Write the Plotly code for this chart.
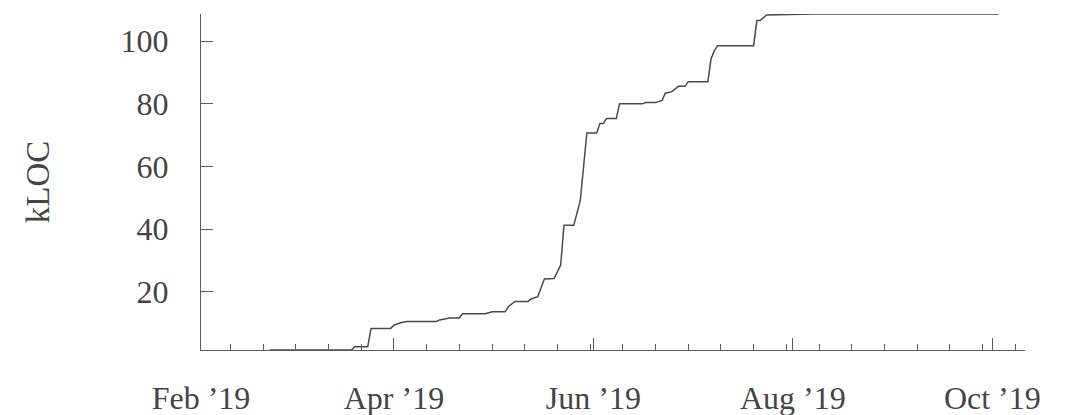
import plotly.graph_objects as go

dates = [
    "2019-02-22", "2019-03-12", "2019-03-19", "2019-03-20", "2019-03-23",
    "2019-03-24", "2019-03-25", "2019-03-31", "2019-04-01", "2019-04-03",
    "2019-04-05", "2019-04-14", "2019-04-15", "2019-04-18", "2019-04-21",
    "2019-04-22", "2019-04-29", "2019-05-01", "2019-05-05", "2019-05-06",
    "2019-05-08", "2019-05-12", "2019-05-13", "2019-05-15", "2019-05-17",
    "2019-05-20", "2019-05-22", "2019-05-23", "2019-05-26", "2019-05-28",
    "2019-05-30", "2019-06-02", "2019-06-03", "2019-06-04", "2019-06-05",
    "2019-06-08", "2019-06-09", "2019-06-16", "2019-06-17", "2019-06-20",
    "2019-06-22", "2019-06-23", "2019-06-25", "2019-06-27", "2019-06-29",
    "2019-06-30", "2019-07-06", "2019-07-07", "2019-07-08", "2019-07-09",
    "2019-07-20", "2019-07-21", "2019-07-22", "2019-07-24", "2019-08-07",
    "2019-10-03",
]
kloc = [
    1.4, 1.4, 1.4, 2.45, 2.45,
    2.45, 8.3, 8.3, 9.3, 10.1,
    10.5, 10.5, 11.0, 11.6, 11.6,
    13.0, 13.0, 13.6, 13.6, 15.2,
    16.9, 16.9, 17.7, 18.4, 24.1,
    24.2, 28.5, 41.2, 41.2, 49.2,
    70.7, 70.7, 73.7, 73.7, 75.3,
    75.3, 80.0, 80.0, 80.4, 80.4,
    81.1, 83.4, 83.9, 85.6, 85.6,
    87.1, 87.1, 94.4, 97.0, 98.6,
    98.6, 106.6, 106.6, 108.4, 108.7,
    108.7,
]

x_range = ["2019-02-01", "2019-10-11"]
y_range = [1.4, 108.7]

FONT = "Liberation Serif"
AX = "#5a5a5a"

fig = go.Figure()
fig.add_trace(go.Scatter(
    x=dates, y=kloc, mode="lines",
    line=dict(color="#4a4a4a", width=1.5),
    showlegend=False, hoverinfo="skip",
))

fig.update_layout(
    width=1065, height=415,
    margin=dict(l=193, r=48, t=6, b=73),
    plot_bgcolor="white", paper_bgcolor="white",
    font=dict(family=FONT, size=32, color="#444"),
    xaxis=dict(
        type="date", range=x_range, automargin=False,
        showgrid=False, zeroline=False,
        showline=True, linecolor=AX, linewidth=1.3,
        ticks="inside", ticklen=12, tickwidth=1.3, tickcolor=AX,
        dtick="M2", tick0="2019-02-01", tickformat="%b ’%y",
        ticklabelstandoff=19,
        minor=dict(dtick=864000000, ticks="inside", ticklen=6,
                   tickwidth=1.3, tickcolor=AX, showgrid=False),
    ),
    yaxis=dict(
        range=y_range, automargin=False,
        showgrid=False, zeroline=False,
        showline=True, linecolor=AX, linewidth=1.3,
        ticks="inside", ticklen=12, tickwidth=1.3, tickcolor=AX,
        dtick=20, tick0=0,
        ticklabelstandoff=25,
        title=dict(text="kLOC", standoff=60, font=dict(size=33)),
    ),
)

fig.write_html("out.html")
